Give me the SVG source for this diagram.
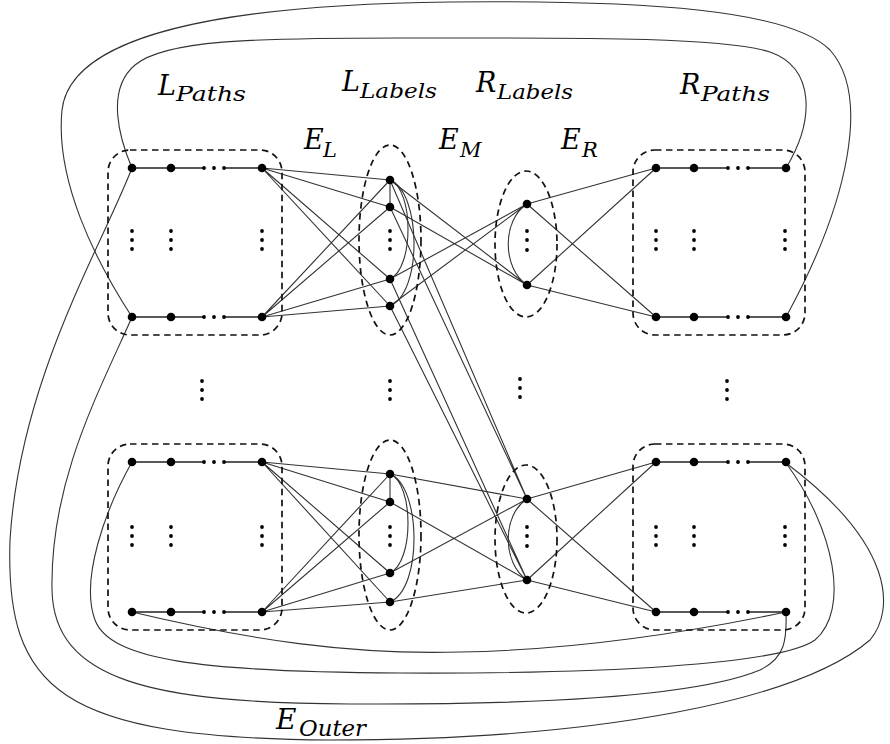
<svg xmlns="http://www.w3.org/2000/svg" width="890" height="744" viewBox="0 0 890 744">
<style>
.e{fill:none;stroke:#333;stroke-width:1.1}
.p{fill:none;stroke:#222;stroke-width:1.5}
.d{fill:none;stroke:#111;stroke-width:1.7;stroke-dasharray:6.5 4.5}
.n{fill:#000}
.t{font-family:"DejaVu Serif","Liberation Serif",serif;font-style:italic;font-size:27px;fill:#000}
.s{font-family:"DejaVu Serif","Liberation Serif",serif;font-style:italic;font-size:21px;fill:#000}
</style>
<rect width="890" height="744" fill="#fff"/>
<g id="connectors">
<path class="e" d="M132,168 C120,140 105,90 135,65 C165,40 250,38 400,38 C560,38 720,36 770,52 C815,68 815,120 786,168"/>
<path class="e" d="M132,317 C95,260 55,180 62,110 C70,40 200,5 450,2 C650,0 790,10 830,50 C870,95 850,200 786,317"/>
<path class="e" d="M132,168 C100,250 20,380 10,540 C5,690 60,738 330,740 C600,740 800,700 870,640 C895,610 895,545 786,463"/>
<path class="e" d="M132,317 C100,390 50,480 52,590 C54,680 150,703 350,704 C550,705 700,695 760,670 C785,658 787,640 786,612"/>
<path class="e" d="M132,462 C105,510 80,580 95,620 C110,660 200,672 400,673 C600,674 780,665 815,640 C850,610 835,530 786,463"/>
<path class="e" d="M132,612 C250,640 350,655 460,652 C580,650 700,630 786,612"/>
<path class="e" d="M262,168 L390,180 M262,168 L390,207 M262,168 L390,279 M262,168 L390,306 M262,317 L390,180 M262,317 L390,207 M262,317 L390,279 M262,317 L390,306"/>
<path class="e" d="M390,180 L390,207 M390,180 C414,190 414,268 390,279 M390,180 C421,192 423,292 390,306"/>
<path class="e" d="M390,180 L527,285 M390,207 L527,285 M390,279 L527,204 M390,306 L527,204"/>
<path class="e" d="M390,180 L527,499 M390,207 L527,499 M390,279 L527,580 M390,306 L527,580"/>
<path class="e" d="M527,204 C502,220 502,268 527,285"/>
<path class="e" d="M527,204 L656,168 M527,204 L656,317 M527,285 L656,168 M527,285 L656,317"/>
<path class="e" d="M262,462 L390,474 M262,462 L390,502 M262,462 L390,573 M262,462 L390,602 M262,612 L390,474 M262,612 L390,502 M262,612 L390,573 M262,612 L390,602"/>
<path class="e" d="M390,474 L390,502 M390,474 C414,484 414,562 390,573 M390,474 C421,486 423,588 390,602"/>
<path class="e" d="M390,474 L527,499 M390,502 L527,580 M390,573 L527,499 M390,602 L527,580"/>
<path class="e" d="M527,499 C502,515 502,563 527,580"/>
<path class="e" d="M527,499 L656,462 M527,499 L656,612 M527,580 L656,462 M527,580 L656,612"/>
</g>
<g id="left-paths-top">
<rect class="d" x="108" y="150" width="174" height="185" rx="22"/>
<path class="p" d="M132,168 H204 M224,168 H262 M132,317 H204 M224,317 H262"/>
<circle class="n" cx="132" cy="168" r="4.3"/><circle class="n" cx="171" cy="168" r="4.3"/><circle class="n" cx="262" cy="168" r="4.3"/>
<circle class="n" cx="204" cy="168" r="1.9"/><circle class="n" cx="214" cy="168" r="1.9"/><circle class="n" cx="224" cy="168" r="1.9"/>
<circle class="n" cx="132" cy="317" r="4.3"/><circle class="n" cx="171" cy="317" r="4.3"/><circle class="n" cx="262" cy="317" r="4.3"/>
<circle class="n" cx="204" cy="317" r="1.9"/><circle class="n" cx="214" cy="317" r="1.9"/><circle class="n" cx="224" cy="317" r="1.9"/>
<circle class="n" cx="132" cy="231" r="1.9"/><circle class="n" cx="132" cy="240" r="1.9"/><circle class="n" cx="132" cy="249" r="1.9"/>
<circle class="n" cx="171" cy="231" r="1.9"/><circle class="n" cx="171" cy="240" r="1.9"/><circle class="n" cx="171" cy="249" r="1.9"/>
<circle class="n" cx="262" cy="231" r="1.9"/><circle class="n" cx="262" cy="240" r="1.9"/><circle class="n" cx="262" cy="249" r="1.9"/>
</g>
<g id="left-paths-bottom">
<rect class="d" x="108" y="444" width="174" height="186" rx="22"/>
<path class="p" d="M132,462 H204 M224,462 H262 M132,612 H204 M224,612 H262"/>
<circle class="n" cx="132" cy="462" r="4.3"/><circle class="n" cx="171" cy="462" r="4.3"/><circle class="n" cx="262" cy="462" r="4.3"/>
<circle class="n" cx="204" cy="462" r="1.9"/><circle class="n" cx="214" cy="462" r="1.9"/><circle class="n" cx="224" cy="462" r="1.9"/>
<circle class="n" cx="132" cy="612" r="4.3"/><circle class="n" cx="171" cy="612" r="4.3"/><circle class="n" cx="262" cy="612" r="4.3"/>
<circle class="n" cx="204" cy="612" r="1.9"/><circle class="n" cx="214" cy="612" r="1.9"/><circle class="n" cx="224" cy="612" r="1.9"/>
<circle class="n" cx="132" cy="527" r="1.9"/><circle class="n" cx="132" cy="536" r="1.9"/><circle class="n" cx="132" cy="545" r="1.9"/>
<circle class="n" cx="171" cy="527" r="1.9"/><circle class="n" cx="171" cy="536" r="1.9"/><circle class="n" cx="171" cy="545" r="1.9"/>
<circle class="n" cx="262" cy="527" r="1.9"/><circle class="n" cx="262" cy="536" r="1.9"/><circle class="n" cx="262" cy="545" r="1.9"/>
</g>
<g id="right-paths-top">
<rect class="d" x="633" y="150" width="172" height="185" rx="22"/>
<path class="p" d="M656,168 H728 M748,168 H786 M656,317 H728 M748,317 H786"/>
<circle class="n" cx="656" cy="168" r="4.3"/><circle class="n" cx="694" cy="168" r="4.3"/><circle class="n" cx="786" cy="168" r="4.3"/>
<circle class="n" cx="728" cy="168" r="1.9"/><circle class="n" cx="738" cy="168" r="1.9"/><circle class="n" cx="748" cy="168" r="1.9"/>
<circle class="n" cx="656" cy="317" r="4.3"/><circle class="n" cx="694" cy="317" r="4.3"/><circle class="n" cx="786" cy="317" r="4.3"/>
<circle class="n" cx="728" cy="317" r="1.9"/><circle class="n" cx="738" cy="317" r="1.9"/><circle class="n" cx="748" cy="317" r="1.9"/>
<circle class="n" cx="656" cy="231" r="1.9"/><circle class="n" cx="656" cy="240" r="1.9"/><circle class="n" cx="656" cy="249" r="1.9"/>
<circle class="n" cx="694" cy="231" r="1.9"/><circle class="n" cx="694" cy="240" r="1.9"/><circle class="n" cx="694" cy="249" r="1.9"/>
<circle class="n" cx="785" cy="231" r="1.9"/><circle class="n" cx="785" cy="240" r="1.9"/><circle class="n" cx="785" cy="249" r="1.9"/>
</g>
<g id="right-paths-bottom">
<rect class="d" x="633" y="444" width="172" height="186" rx="22"/>
<path class="p" d="M656,462 H728 M748,462 H786 M656,612 H728 M748,612 H786"/>
<circle class="n" cx="656" cy="462" r="4.3"/><circle class="n" cx="694" cy="462" r="4.3"/><circle class="n" cx="786" cy="462" r="4.3"/>
<circle class="n" cx="728" cy="462" r="1.9"/><circle class="n" cx="738" cy="462" r="1.9"/><circle class="n" cx="748" cy="462" r="1.9"/>
<circle class="n" cx="656" cy="612" r="4.3"/><circle class="n" cx="694" cy="612" r="4.3"/><circle class="n" cx="786" cy="612" r="4.3"/>
<circle class="n" cx="728" cy="612" r="1.9"/><circle class="n" cx="738" cy="612" r="1.9"/><circle class="n" cx="748" cy="612" r="1.9"/>
<circle class="n" cx="656" cy="527" r="1.9"/><circle class="n" cx="656" cy="536" r="1.9"/><circle class="n" cx="656" cy="545" r="1.9"/>
<circle class="n" cx="694" cy="527" r="1.9"/><circle class="n" cx="694" cy="536" r="1.9"/><circle class="n" cx="694" cy="545" r="1.9"/>
<circle class="n" cx="785" cy="527" r="1.9"/><circle class="n" cx="785" cy="536" r="1.9"/><circle class="n" cx="785" cy="545" r="1.9"/>
</g>
<g id="left-labels-top">
<ellipse class="d" cx="390" cy="240" rx="31" ry="95"/>
<circle class="n" cx="390" cy="180" r="4.3"/><circle class="n" cx="390" cy="207" r="4.3"/><circle class="n" cx="390" cy="279" r="4.3"/><circle class="n" cx="390" cy="306" r="4.3"/>
<circle class="n" cx="390" cy="231" r="1.9"/><circle class="n" cx="390" cy="240" r="1.9"/><circle class="n" cx="390" cy="249" r="1.9"/>
</g>
<g id="left-labels-bottom">
<ellipse class="d" cx="390" cy="535" rx="31" ry="95"/>
<circle class="n" cx="390" cy="474" r="4.3"/><circle class="n" cx="390" cy="502" r="4.3"/><circle class="n" cx="390" cy="573" r="4.3"/><circle class="n" cx="390" cy="602" r="4.3"/>
<circle class="n" cx="390" cy="527" r="1.9"/><circle class="n" cx="390" cy="536" r="1.9"/><circle class="n" cx="390" cy="545" r="1.9"/>
</g>
<g id="right-labels-top">
<ellipse class="d" cx="526" cy="244" rx="31" ry="73"/>
<circle class="n" cx="527" cy="204" r="4.3"/><circle class="n" cx="527" cy="285" r="4.3"/>
<circle class="n" cx="527" cy="231" r="1.9"/><circle class="n" cx="527" cy="240" r="1.9"/><circle class="n" cx="527" cy="250" r="1.9"/>
</g>
<g id="right-labels-bottom">
<ellipse class="d" cx="526" cy="539" rx="31" ry="74"/>
<circle class="n" cx="527" cy="499" r="4.3"/><circle class="n" cx="527" cy="580" r="4.3"/>
<circle class="n" cx="527" cy="527" r="1.9"/><circle class="n" cx="527" cy="536" r="1.9"/><circle class="n" cx="527" cy="546" r="1.9"/>
</g>
<g id="between-dots">
<circle class="n" cx="202" cy="381" r="1.9"/><circle class="n" cx="202" cy="390" r="1.9"/><circle class="n" cx="202" cy="399" r="1.9"/>
<circle class="n" cx="390" cy="381" r="1.9"/><circle class="n" cx="390" cy="390" r="1.9"/><circle class="n" cx="390" cy="399" r="1.9"/>
<circle class="n" cx="520" cy="379" r="1.9"/><circle class="n" cx="520" cy="388" r="1.9"/><circle class="n" cx="520" cy="397" r="1.9"/>
<circle class="n" cx="727" cy="381" r="1.9"/><circle class="n" cx="727" cy="390" r="1.9"/><circle class="n" cx="727" cy="399" r="1.9"/>
</g>
<g id="labels">
<text class="t" x="158" y="95">L</text><text class="s" x="176" y="101" textLength="70" lengthAdjust="spacingAndGlyphs">Paths</text>
<text class="t" x="342" y="91">L</text><text class="s" x="360" y="98" textLength="77" lengthAdjust="spacingAndGlyphs">Labels</text>
<text class="t" x="476" y="92">R</text><text class="s" x="497" y="99" textLength="76" lengthAdjust="spacingAndGlyphs">Labels</text>
<text class="t" x="680" y="94">R</text><text class="s" x="701" y="101" textLength="69" lengthAdjust="spacingAndGlyphs">Paths</text>
<text class="t" x="304" y="149">E</text><text class="s" x="323" y="157">L</text>
<text class="t" x="439" y="149">E</text><text class="s" x="460" y="157">M</text>
<text class="t" x="561" y="149">E</text><text class="s" x="582" y="157">R</text>
<text class="t" x="276" y="729" style="font-size:28px">E</text><text class="s" x="299" y="736" style="font-size:22px" textLength="67" lengthAdjust="spacingAndGlyphs">Outer</text>
</g>
</svg>
